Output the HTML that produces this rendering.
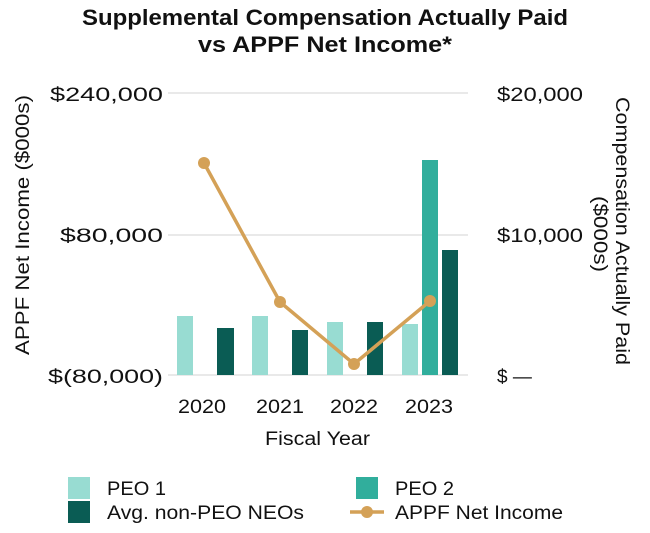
<!DOCTYPE html>
<html><head><style>body{margin:0;background:#fff}</style></head><body>
<svg width="650" height="528" xmlns="http://www.w3.org/2000/svg" font-family="Liberation Sans, sans-serif">
<text x="325" y="25" text-anchor="middle" font-size="22" font-weight="bold" fill="#111" textLength="486" lengthAdjust="spacingAndGlyphs">Supplemental Compensation Actually Paid</text>
<text x="325" y="52" text-anchor="middle" font-size="22" font-weight="bold" fill="#111" textLength="254" lengthAdjust="spacingAndGlyphs">vs APPF Net Income*</text>
<g stroke="#e2e2e2" stroke-width="1.5">
<line x1="168" y1="93" x2="468" y2="93"/><line x1="168" y1="235" x2="468" y2="235"/><line x1="168" y1="375" x2="468" y2="375"/></g>
<g font-size="19" fill="#111">
<text x="50" y="101" textLength="113" lengthAdjust="spacingAndGlyphs">$240,000</text>
<text x="60" y="242" textLength="103" lengthAdjust="spacingAndGlyphs">$80,000</text>
<text x="48" y="383" textLength="115" lengthAdjust="spacingAndGlyphs">$(80,000)</text>
<text x="497" y="101" textLength="86" lengthAdjust="spacingAndGlyphs">$20,000</text>
<text x="497" y="242" textLength="86" lengthAdjust="spacingAndGlyphs">$10,000</text>
<text x="497" y="383">$ —</text>
<text x="178" y="413" textLength="48" lengthAdjust="spacingAndGlyphs">2020</text>
<text x="256" y="413" textLength="48" lengthAdjust="spacingAndGlyphs">2021</text>
<text x="330" y="413" textLength="48" lengthAdjust="spacingAndGlyphs">2022</text>
<text x="405" y="413" textLength="48" lengthAdjust="spacingAndGlyphs">2023</text>
<text x="265" y="445" textLength="105" lengthAdjust="spacingAndGlyphs">Fiscal Year</text>
<text transform="translate(29,355) rotate(-90)" textLength="260" lengthAdjust="spacingAndGlyphs">APPF Net Income ($000s)</text>
<text transform="translate(616,97) rotate(90)" textLength="268" lengthAdjust="spacingAndGlyphs">Compensation Actually Paid</text>
<text transform="translate(594,196) rotate(90)" textLength="76" lengthAdjust="spacingAndGlyphs">($000s)</text>
</g>
<g>
<rect x="177" y="316" width="16" height="59" fill="#98dcd2"/>
<rect x="217" y="328" width="17" height="47" fill="#0a5c54"/>
<rect x="252" y="316" width="16" height="59" fill="#98dcd2"/>
<rect x="292" y="330" width="16" height="45" fill="#0a5c54"/>
<rect x="327" y="322" width="16" height="53" fill="#98dcd2"/>
<rect x="367" y="322" width="16" height="53" fill="#0a5c54"/>
<rect x="402" y="324" width="16" height="51" fill="#98dcd2"/>
<rect x="422" y="160" width="16" height="215" fill="#31ae9c"/>
<rect x="442" y="250" width="16" height="125" fill="#0a5c54"/>
</g>
<polyline points="204,163 280,302 354,364 430,301" fill="none" stroke="#d4a157" stroke-width="3.5"/>
<g fill="#d4a157"><circle cx="204" cy="163" r="6"/><circle cx="280" cy="302" r="6"/><circle cx="354" cy="364" r="6"/><circle cx="430" cy="301" r="6"/></g>
<g font-size="19" fill="#111">
<rect x="68" y="477" width="22" height="22" fill="#98dcd2"/><text x="107" y="495" textLength="59" lengthAdjust="spacingAndGlyphs">PEO 1</text>
<rect x="68" y="501" width="22" height="22" fill="#0a5c54"/><text x="107" y="519" textLength="197" lengthAdjust="spacingAndGlyphs">Avg. non-PEO NEOs</text>
<rect x="356" y="477" width="22" height="22" fill="#31ae9c"/><text x="395" y="495" textLength="59" lengthAdjust="spacingAndGlyphs">PEO 2</text>
<line x1="350" y1="512" x2="384" y2="512" stroke="#d4a157" stroke-width="3.5"/><circle cx="367" cy="512" r="6" fill="#d4a157"/><text x="395" y="519" textLength="168" lengthAdjust="spacingAndGlyphs">APPF Net Income</text>
</g>
</svg>
</body></html>
